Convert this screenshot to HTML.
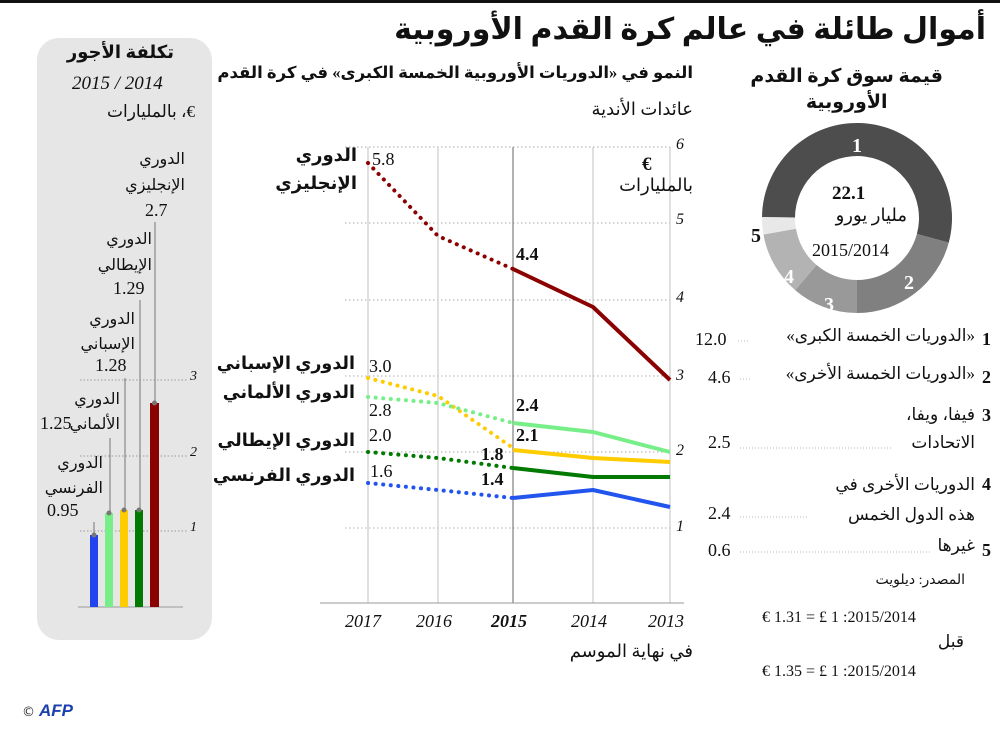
<!DOCTYPE html>
<html><head><meta charset="utf-8"><style>
body{margin:0;background:#fff;}
#w{position:relative;width:1000px;height:737px;overflow:hidden;font-family:"Liberation Serif","DejaVu Sans",serif;color:#111;}
.t{position:absolute;white-space:nowrap;direction:rtl;text-align:right;font-family:"Liberation Serif","DejaVu Sans",serif;}
.l{position:absolute;white-space:nowrap;font-family:"Liberation Serif","DejaVu Sans",serif;}
.b{font-weight:bold}
.i{font-style:italic}
</style></head><body><div id="w">
<svg width="1000" height="737" style="position:absolute;left:0;top:0">
<rect x="0" y="0" width="1000" height="3" fill="#111"/>
<rect x="37" y="38" width="175" height="602" rx="22" fill="#e6e6e6"/>
<g stroke="#999" stroke-dasharray="1.5,2" stroke-width="1">
<line x1="80" y1="380" x2="188" y2="380"/><line x1="80" y1="456" x2="188" y2="456"/><line x1="80" y1="531" x2="188" y2="531"/>
</g>
<line x1="78" y1="607" x2="183" y2="607" stroke="#999" stroke-width="1"/>
<g stroke="#888" stroke-width="1.2">
<line x1="155" y1="222" x2="155" y2="403"/><line x1="140" y1="300" x2="140" y2="510"/><line x1="125" y1="378" x2="125" y2="510"/><line x1="110" y1="438" x2="110" y2="513"/><line x1="94" y1="522" x2="94" y2="535"/>
</g>
<rect x="90" y="535" width="8" height="72" fill="#2244ee"/>
<rect x="105" y="513" width="8" height="94" fill="#77ee88"/>
<rect x="120" y="510" width="8" height="97" fill="#ffcc00"/>
<rect x="135" y="510" width="8" height="97" fill="#007a00"/>
<rect x="150" y="403" width="9" height="204" fill="#8b0000"/>
<g fill="#777"><circle cx="94" cy="535" r="2.5"/><circle cx="109" cy="513" r="2.5"/><circle cx="124" cy="510" r="2.5"/><circle cx="139" cy="510" r="2.5"/><circle cx="154.5" cy="403" r="2.5"/></g>
<g stroke="#aaa" stroke-dasharray="1.5,2.5" stroke-width="1">
<line x1="345" y1="147" x2="670" y2="147"/><line x1="345" y1="223" x2="670" y2="223"/><line x1="345" y1="300" x2="670" y2="300"/><line x1="345" y1="376" x2="670" y2="376"/><line x1="345" y1="452" x2="670" y2="452"/><line x1="345" y1="528" x2="670" y2="528"/>
</g>
<g stroke="#ccc" stroke-width="1.2">
<line x1="368" y1="147" x2="368" y2="603"/><line x1="438" y1="147" x2="438" y2="603"/><line x1="593" y1="147" x2="593" y2="603"/><line x1="670" y1="147" x2="670" y2="603"/>
</g>
<line x1="513" y1="147" x2="513" y2="603" stroke="#888" stroke-width="1.3"/>
<line x1="320" y1="603" x2="684" y2="603" stroke="#999" stroke-width="1"/>
<g fill="none" stroke-width="4" stroke-linecap="round">
<g stroke-dasharray="0.1,7.5">
<polyline stroke="#8b0000" points="368,163 438,236 513,269"/>
<polyline stroke="#ffcc00" points="368,378 438,396 513,448"/>
<polyline stroke="#77ee88" points="368,397 438,403 513,423"/>
<polyline stroke="#007a00" points="368,452 438,458 513,468"/>
<polyline stroke="#2255ee" points="368,483 438,490 513,498"/>
</g>
<g stroke-linecap="butt" stroke-linejoin="round">
<polyline stroke="#8b0000" points="513,269 593,307 670,380"/>
<polyline stroke="#ffcc00" points="513,450 593,458 670,462"/>
<polyline stroke="#77ee88" points="513,423 593,432 670,452"/>
<polyline stroke="#007a00" points="513,468 593,477 670,477"/>
<polyline stroke="#2255ee" points="513,498 593,490 670,507"/>
</g></g>
<g transform="translate(857,218)">
<path d="M-94.99,-0.83 A95,95 0 1 1 91.76,24.59 L59.89,16.05 A62,62 0 1 0 -62,-0.54Z" fill="#4d4d4d"/>
<path d="M91.76,24.59 A95,95 0 0 1 0,95 L0,62 A62,62 0 0 0 59.89,16.05Z" fill="#808080"/>
<path d="M0,95 A95,95 0 0 1 -61.9,72.07 L-40.4,47.03 A62,62 0 0 0 0,62Z" fill="#999"/>
<path d="M-61.9,72.07 A95,95 0 0 1 -93.55,16.5 L-61.06,10.77 A62,62 0 0 0 -40.4,47.03Z" fill="#b3b3b3"/>
<path d="M-93.55,16.5 A95,95 0 0 1 -94.99,-0.83 L-62,-0.54 A62,62 0 0 0 -61.06,10.77Z" fill="#e8e8e8"/>
</g>
<g font-family="Liberation Serif" font-weight="bold" font-size="20" text-anchor="middle">
<text x="857" y="152" fill="#fff">1</text><text x="909" y="289" fill="#fff">2</text><text x="829" y="311" fill="#fff">3</text><text x="789" y="283" fill="#fff">4</text><text x="756" y="242" fill="#111">5</text>
</g>
<g stroke="#bbb" stroke-dasharray="1,2"><line x1="738" y1="341" x2="748" y2="341"/><line x1="740" y1="379" x2="750" y2="379"/><line x1="740" y1="448" x2="893" y2="448"/><line x1="740" y1="517" x2="808" y2="517"/><line x1="740" y1="552" x2="930" y2="552"/></g>
<text x="22" y="716" font-family="DejaVu Sans" font-size="13" fill="#333">©</text>
<text x="39" y="716" font-family="Liberation Sans" font-weight="bold" font-style="italic" font-size="17" fill="#1a3fae">AFP</text>
</svg>

<div class="t b" style="right:14px;top:12px;font-size:30px;">أموال طائلة في عالم كرة القدم الأوروبية</div>

<div class="t b" style="right:826px;top:42px;font-size:18px;">تكلفة الأجور</div>
<div class="l i" style="left:72px;top:73px;font-size:19px;">2015 / 2014</div>
<div class="t" style="right:805px;top:102px;font-size:17px;">€، بالمليارات</div>

<div class="t" style="right:815px;top:147px;font-size:16px;line-height:26px;">الدوري<br>الإنجليزي</div>
<div class="l" style="left:145px;top:200px;font-size:18px;">2.7</div>
<div class="t" style="right:848px;top:227px;font-size:16px;line-height:26px;">الدوري<br>الإيطالي</div>
<div class="l" style="left:113px;top:278px;font-size:18px;">1.29</div>
<div class="t" style="right:865px;top:307px;font-size:16px;line-height:25px;">الدوري<br>الإسباني</div>
<div class="l" style="left:95px;top:355px;font-size:18px;">1.28</div>
<div class="t" style="right:880px;top:387px;font-size:16px;line-height:25px;">الدوري<br>الألماني</div>
<div class="l" style="left:40px;top:413px;font-size:18px;">1.25</div>
<div class="t" style="right:897px;top:451px;font-size:16px;line-height:25px;">الدوري<br>الفرنسي</div>
<div class="l" style="left:47px;top:500px;font-size:18px;">0.95</div>
<div class="l i" style="left:190px;top:369px;font-size:14px;">3</div>
<div class="l i" style="left:190px;top:445px;font-size:14px;">2</div>
<div class="l i" style="left:190px;top:520px;font-size:14px;">1</div>

<div class="t b" style="right:307px;top:63px;font-size:16.5px;">النمو في «الدوريات الأوروبية الخمسة الكبرى» في كرة القدم</div>
<div class="t" style="right:307px;top:99px;font-size:18px;">عائدات الأندية</div>
<div class="l b" style="left:642px;top:154px;font-size:19px;">€</div>
<div class="t" style="right:307px;top:175px;font-size:18px;">بالمليارات</div>
<div class="l i" style="left:676px;top:136px;font-size:16px;">6</div>
<div class="l i" style="left:676px;top:211px;font-size:16px;">5</div>
<div class="l i" style="left:676px;top:289px;font-size:16px;">4</div>
<div class="l i" style="left:676px;top:367px;font-size:16px;">3</div>
<div class="l i" style="left:676px;top:442px;font-size:16px;">2</div>
<div class="l i" style="left:676px;top:518px;font-size:16px;">1</div>

<div class="t b" style="right:643px;top:141px;font-size:18px;line-height:28px;">الدوري<br>الإنجليزي</div>
<div class="l" style="left:372px;top:149px;font-size:18px;">5.8</div>
<div class="l b" style="left:516px;top:244px;font-size:18px;">4.4</div>
<div class="t b" style="right:645px;top:353px;font-size:17.5px;">الدوري الإسباني</div>
<div class="t b" style="right:645px;top:382px;font-size:17.5px;">الدوري الألماني</div>
<div class="t b" style="right:645px;top:430px;font-size:17.5px;">الدوري الإيطالي</div>
<div class="t b" style="right:645px;top:465px;font-size:17.5px;">الدوري الفرنسي</div>
<div class="l" style="left:369px;top:356px;font-size:18px;">3.0</div>
<div class="l" style="left:369px;top:400px;font-size:18px;">2.8</div>
<div class="l" style="left:369px;top:425px;font-size:18px;">2.0</div>
<div class="l" style="left:370px;top:461px;font-size:18px;">1.6</div>
<div class="l b" style="left:516px;top:395px;font-size:18px;">2.4</div>
<div class="l b" style="left:516px;top:425px;font-size:18px;">2.1</div>
<div class="l b" style="left:481px;top:444px;font-size:18px;">1.8</div>
<div class="l b" style="left:481px;top:469px;font-size:18px;">1.4</div>
<div class="l i" style="left:345px;top:611px;font-size:18px;">2017</div>
<div class="l i" style="left:416px;top:611px;font-size:18px;">2016</div>
<div class="l i b" style="left:491px;top:611px;font-size:18px;">2015</div>
<div class="l i" style="left:571px;top:611px;font-size:18px;">2014</div>
<div class="l i" style="left:648px;top:611px;font-size:18px;">2013</div>
<div class="t" style="right:307px;top:641px;font-size:18px;">في نهاية الموسم</div>

<div class="t b" style="right:57px;top:64px;font-size:19px;line-height:26px;text-align:center;">قيمة سوق كرة القدم<br>الأوروبية</div>
<div class="l b" style="left:832px;top:183px;font-size:19px;">22.1</div>
<div class="t" style="right:93px;top:205px;font-size:18px;">مليار يورو</div>
<div class="l" style="left:812px;top:240px;font-size:18px;">2015/2014</div>

<div class="l b" style="left:982px;top:329px;font-size:18px;">1</div>
<div class="t" style="right:25px;top:326px;font-size:17px;">«الدوريات الخمسة الكبرى»</div>
<div class="l" style="left:695px;top:329px;font-size:18px;">12.0</div>
<div class="l b" style="left:982px;top:367px;font-size:18px;">2</div>
<div class="t" style="right:25px;top:364px;font-size:17px;">«الدوريات الخمسة الأخرى»</div>
<div class="l" style="left:708px;top:367px;font-size:18px;">4.6</div>
<div class="l b" style="left:982px;top:405px;font-size:18px;">3</div>
<div class="t" style="right:25px;top:401px;font-size:17px;line-height:28px;">فيفا، ويفا،<br>الاتحادات</div>
<div class="l" style="left:708px;top:432px;font-size:18px;">2.5</div>
<div class="l b" style="left:982px;top:474px;font-size:18px;">4</div>
<div class="t" style="right:25px;top:470px;font-size:17px;line-height:30px;">الدوريات الأخرى في<br>هذه الدول الخمس</div>
<div class="l" style="left:708px;top:503px;font-size:18px;">2.4</div>
<div class="l b" style="left:982px;top:540px;font-size:18px;">5</div>
<div class="t" style="right:25px;top:536px;font-size:17px;">غيرها</div>
<div class="l" style="left:708px;top:540px;font-size:18px;">0.6</div>
<div class="t" style="right:35px;top:572px;font-size:14px;">المصدر: ديلويت</div>
<div class="l" style="left:762px;top:609px;font-size:16px;">€ 1.31 = £ 1 :2015/2014</div>
<div class="t" style="right:36px;top:632px;font-size:17px;">قبل</div>
<div class="l" style="left:762px;top:663px;font-size:16px;">€ 1.35 = £ 1 :2015/2014</div>
</div></body></html>
